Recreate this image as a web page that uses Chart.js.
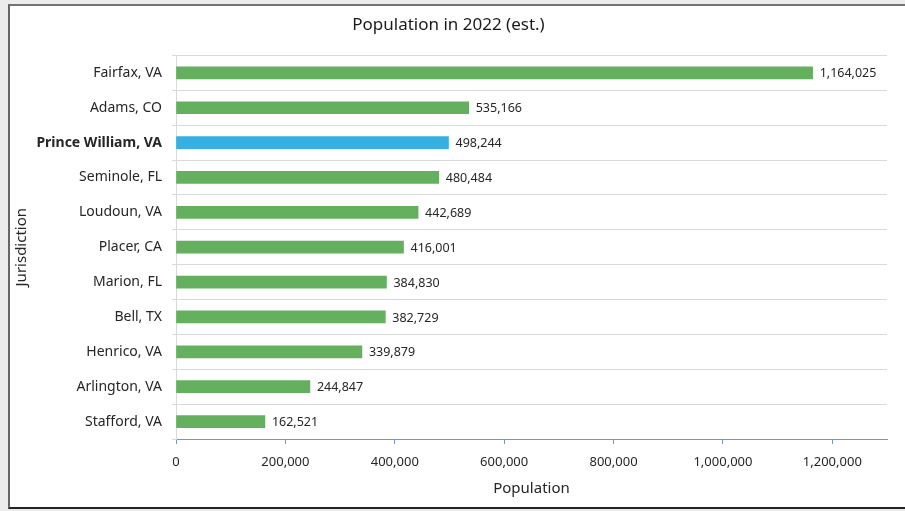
<!DOCTYPE html>
<html>
<head>
<meta charset="utf-8">
<script src="https://cdn.jsdelivr.net/npm/chart.js@4.4.1/dist/chart.umd.min.js"></script>
<style>
  html, body { margin: 0; padding: 0; background: #ececec; }
  #frame {
    position: absolute; left: 8px; top: 4px;
    width: 895px; height: 501px;
    background: #fff;
    border-top: 2px solid #737373;
    border-left: 2px solid #666;
    border-bottom: 2px solid #222;
  }
  #chart { display: block; }
</style>
</head>
<body>
<div id="frame"><canvas id="chart" width="895" height="501"></canvas></div>
<script>
// Population by jurisdiction, 2022 estimates
var jurisdictions = ['Fairfax, VA', 'Adams, CO', 'Prince William, VA', 'Seminole, FL', 'Loudoun, VA',
  'Placer, CA', 'Marion, FL', 'Bell, TX', 'Henrico, VA', 'Arlington, VA', 'Stafford, VA'];
var population = [1164025, 535166, 498244, 480484, 442689, 416001, 384830, 382729, 339879, 244847, 162521];
var highlight = 'Prince William, VA';
var xTicks = [0, 200000, 400000, 600000, 800000, 1000000, 1200000];

var FONT = "'Noto Sans', sans-serif";
var green = '#65b05f';
var blue = '#36b0e3';

var barColors = jurisdictions.map(function (j) { return j === highlight ? blue : green; });

// value labels at the end of each bar
var valueLabels = {
  id: 'valueLabels',
  afterDatasetsDraw: function (chart) {
    var ctx = chart.ctx;
    var meta = chart.getDatasetMeta(0);
    ctx.save();
    ctx.font = '12.5px ' + FONT;
    ctx.fillStyle = '#262626';
    ctx.textBaseline = 'middle';
    ctx.textAlign = 'left';
    meta.data.forEach(function (bar, i) {
      ctx.fillText(population[i].toLocaleString('en-US'), bar.x + 7, bar.y + 1);
    });
    ctx.restore();
  }
};

var ctx = document.getElementById('chart').getContext('2d');
var chart = new Chart(ctx, {
  type: 'bar',
  data: {
    labels: jurisdictions,
    datasets: [{
      label: 'Population',
      data: population,
      backgroundColor: barColors,
      barThickness: 12
    }]
  },
  options: {
    indexAxis: 'y',
    responsive: false,
    animation: false,
    layout: { padding: { left: 0, right: 18, top: 0, bottom: 0 } },
    plugins: {
      legend: { display: false },
      tooltip: { enabled: false },
      title: {
        display: true,
        text: 'Population in 2022 (est.)',
        color: '#1a1a1a',
        font: { family: FONT, size: 17, weight: 'normal' },
        padding: { top: 9, bottom: 20 }
      }
    },
    scales: {
      x: {
        min: 0,
        max: 1300000,
        afterBuildTicks: function (scale) {
          scale.ticks = xTicks.map(function (v) { return { value: v }; });
        },
        afterFit: function (scale) { scale.height = 68; },
        grid: {
          drawOnChartArea: false,
          drawTicks: true,
          tickLength: 5,
          color: '#6f97d6'
        },
        border: { display: true, color: '#6f97d6', width: 1 },
        ticks: {
          padding: 10,
          color: '#262626',
          font: { family: FONT, size: 13 },
          callback: function (v) { return Number(v).toLocaleString('en-US'); }
        },
        title: {
          display: true,
          text: 'Population',
          color: '#262626',
          font: { family: FONT, size: 15 },
          padding: { top: 4, bottom: 9 }
        }
      },
      y: {
        afterFit: function (scale) { scale.width = 166; },
        grid: {
          color: '#d9d9d9',
          tickLength: 4,
          offset: true
        },
        border: { display: true, color: '#d9d9d9' },
        ticks: {
          padding: 10,
          color: '#262626',
          font: function (c) {
            var bold = jurisdictions[c.index] === highlight;
            return { family: FONT, size: 14, weight: bold ? 'bold' : 'normal' };
          }
        },
        title: {
          display: true,
          text: 'Jurisdiction',
          color: '#262626',
          font: { family: FONT, size: 15 },
          padding: { top: 3, bottom: 0 }
        }
      }
    }
  },
  plugins: [valueLabels]
});
</script>
</body>
</html>
